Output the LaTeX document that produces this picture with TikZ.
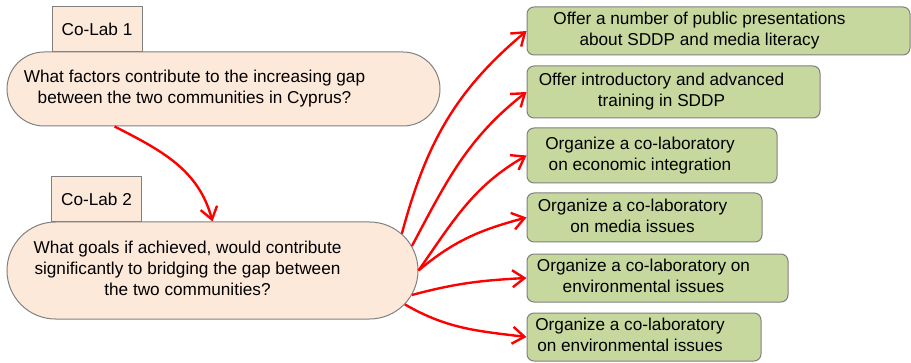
\documentclass[tikz,border=0pt]{standalone}
\usepackage{fontspec}
\setmainfont{Liberation Sans}
\usetikzlibrary{shapes, arrows.meta}

\definecolor{peach}{HTML}{FDE9DA}
\definecolor{leaf}{HTML}{C6D89E}
\definecolor{boxgrey}{HTML}{808080}
\newcommand{\boxtext}[2][0pt]{\makebox[0pt]{\begin{tabular}{@{}c@{}}#2\end{tabular}\hspace*{#1}}}

\begin{document}
\begin{tikzpicture}[x=1pt, y=1pt, font=\fontsize{17.2}{21}\selectfont,
  question/.style={rounded rectangle, draw=boxgrey, fill=peach, line width=1pt, inner sep=0pt},
  tab/.style={rectangle, draw=boxgrey, fill=peach, line width=1pt, inner sep=0pt, minimum width=90pt, minimum height=45pt},
  goal/.style={rectangle, rounded corners=7pt, draw=boxgrey, fill=leaf, line width=1pt, inner sep=0pt, minimum height=48pt},
  link/.style={red, line width=2.4pt, -{Straight Barb[length=12pt,width=17pt]}}]
  	\useasboundingbox (0,0) rectangle (911,362);

  	\node[tab] (T1) at (97,332.5) {Co-Lab 1};
  	\node[question, minimum width=433pt, minimum height=74pt] (Q1) at (223.5,273) {\boxtext[58pt]{What factors contribute to the increasing gap\\between the two communities in Cyprus?}};

  	\node[tab] (T2) at (96.5,162.5) {Co-Lab 2};
  	\node[question, minimum width=411pt, minimum height=97pt] (Q2) at (212.5,91.5) {\boxtext[50pt]{What goals if achieved, would contribute\\significantly to bridging the gap between\\the two communities?}};

  	\node[goal, minimum width=383pt] (G1) at (718.5,331) {\boxtext[38pt]{Offer a number of public presentations\\about SDDP and media literacy}};
  	\node[goal, minimum width=293pt, minimum height=52pt] (G2) at (673.5,270) {\boxtext[24pt]{Offer introductory and advanced\\training in SDDP}};
  	\node[goal, minimum width=250pt, minimum height=55pt] (G3) at (652,206.5) {\boxtext[24pt]{Organize a co-laboratory\\on economic integration}};
  	\node[goal, minimum width=235pt, minimum height=49pt] (G4) at (644.5,144.5) {\boxtext[24pt]{Organize a co-laboratory\\on media issues}};
  	\node[goal, minimum width=261pt] (G5) at (657.5,84) {\boxtext[28pt]{Organize a co-laboratory on\\environmental issues}};
  	\node[goal, minimum width=234pt] (G6) at (644,25) {\boxtext[28pt]{Organize a co-laboratory\\on environmental issues}};

  	\draw[link] (Q1.199) to[out=-27,in=105] (Q2.north);

  	\draw[link] (Q2.11) to[out=75,in=220] (G1.west);
  	\draw[link] (Q2.7) to[out=62,in=218] (G2.west);
  	\draw[link] (Q2.east) to[out=55,in=210] (G3.west);
  	\draw[link] (Q2.east) to[out=40,in=195] (G4.west);
  	\draw[link] (Q2.-7) to[out=15,in=183] (G5.west);
  	\draw[link] (Q2.-10) to[out=-30,in=173] (G6.west);
\end{tikzpicture}
\end{document}
